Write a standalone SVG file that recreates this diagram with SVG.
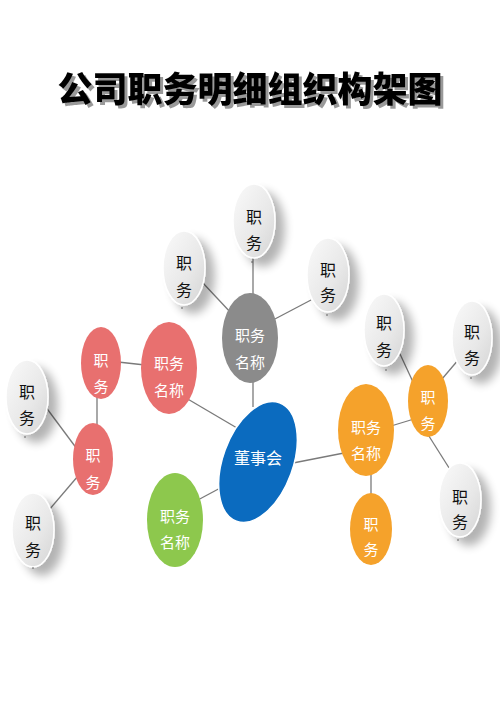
<svg xmlns="http://www.w3.org/2000/svg" width="500" height="707" viewBox="0 0 500 707">
<defs>
<linearGradient id="gg" x1="0" y1="0" x2="1" y2="1">
<stop offset="0" stop-color="#fafafa"/>
<stop offset="0.6" stop-color="#e8e8e8"/>
<stop offset="1" stop-color="#d4d4d4"/>
</linearGradient>
<filter id="sh" x="-60%" y="-50%" width="240%" height="200%">
<feGaussianBlur in="SourceAlpha" stdDeviation="5"/>
<feOffset dx="9" dy="8"/>
<feComponentTransfer><feFuncA type="linear" slope="0.3"/></feComponentTransfer>
<feMerge><feMergeNode/><feMergeNode in="SourceGraphic"/></feMerge>
</filter>
<filter id="tsh" x="-5%" y="-20%" width="110%" height="140%">
<feOffset in="SourceAlpha" dx="2.5" dy="2.5"/>
<feComponentTransfer><feFuncA type="linear" slope="0.4"/></feComponentTransfer>
<feMerge><feMergeNode/><feMergeNode in="SourceGraphic"/></feMerge>
</filter>
</defs>
<style>
.g{fill:url(#gg);stroke:#ffffff;stroke-width:1.5;filter:url(#sh)}
.gt{font-family:"Noto Sans CJK SC","Noto Sans",sans-serif;font-size:16px;fill:#111;text-anchor:middle}
.ct{font-family:"Noto Sans CJK SC","Noto Sans",sans-serif;font-size:15px;fill:#ffffff;text-anchor:middle}
.dot{fill:#555}
.red{fill:#e8706f}
.org{fill:#f5a22b}
.grn{fill:#8dc84d}
.gry{fill:#8b8b8b}
#connectors line{stroke:#7a7a7a;stroke-width:1.3}
.title{font-family:"Noto Sans CJK SC","Noto Sans",sans-serif;font-size:35px;font-weight:900;text-anchor:middle;filter:url(#tsh)}
</style>
<rect width="500" height="707" fill="#ffffff"/>
<g id="title">
<text class="title" x="250" y="102" fill="#000000">公司职务明细组织构架图</text>
</g>
<g id="connectors">
<line x1="253" y1="254" x2="253" y2="297"/>
<line x1="202" y1="282" x2="232" y2="314"/>
<line x1="311" y1="300" x2="273" y2="320"/>
<line x1="253" y1="379" x2="253" y2="407"/>
<line x1="186" y1="398" x2="237" y2="428"/>
<line x1="196" y1="501" x2="224" y2="486"/>
<line x1="293" y1="463" x2="344" y2="453"/>
<line x1="118" y1="362" x2="145" y2="365"/>
<line x1="97" y1="395" x2="97" y2="427"/>
<line x1="45" y1="406" x2="77" y2="449"/>
<line x1="78" y1="476" x2="49" y2="510"/>
<line x1="391" y1="426" x2="414" y2="419"/>
<line x1="371" y1="472" x2="371" y2="498"/>
<line x1="400" y1="354" x2="413" y2="382"/>
<line x1="442" y1="379" x2="459" y2="359"/>
<line x1="427" y1="433" x2="451" y2="471"/>
</g>
<g id="n-g1"><ellipse class="g" cx="254" cy="221" rx="21" ry="37"/><text class="gt" x="254" y="223">职</text><text class="gt" x="254" y="249">务</text><circle class="dot" cx="252" cy="262" r="0.8"/></g>
<g id="n-g2"><ellipse class="g" cx="184" cy="268" rx="21" ry="37"/><text class="gt" x="184" y="269">职</text><text class="gt" x="184" y="296">务</text><circle class="dot" cx="182" cy="308" r="0.8"/></g>
<g id="n-g3"><ellipse class="g" cx="328" cy="275" rx="21" ry="37"/><text class="gt" x="328" y="276">职</text><text class="gt" x="328" y="301">务</text><circle class="dot" cx="327" cy="315" r="0.8"/></g>
<g id="n-g4"><ellipse class="g" cx="27" cy="397" rx="21" ry="37"/><text class="gt" x="27" y="398">职</text><text class="gt" x="27" y="424">务</text><circle class="dot" cx="25" cy="437" r="0.8"/></g>
<g id="n-g5"><ellipse class="g" cx="33" cy="530" rx="21" ry="37"/><text class="gt" x="33" y="529">职</text><text class="gt" x="33" y="556">务</text><circle class="dot" cx="33" cy="568" r="0.8"/></g>
<g id="n-g6"><ellipse class="g" cx="384" cy="330" rx="20" ry="36"/><text class="gt" x="384" y="329">职</text><text class="gt" x="384" y="356">务</text><circle class="dot" cx="386" cy="370" r="0.8"/></g>
<g id="n-g7"><ellipse class="g" cx="472" cy="338" rx="20" ry="37"/><text class="gt" x="472" y="338">职</text><text class="gt" x="472" y="364">务</text><circle class="dot" cx="471" cy="378" r="0.8"/></g>
<g id="n-g8"><ellipse class="g" cx="460" cy="500" rx="21" ry="37"/><text class="gt" x="460" y="503">职</text><text class="gt" x="460" y="528">务</text><circle class="dot" cx="458" cy="540" r="0.8"/></g>
<g id="n-grayname"><ellipse class="gry" cx="250" cy="338" rx="28" ry="45"/><text class="ct" x="250" y="341">职务</text><text class="ct" x="250" y="368">名称</text></g>
<g id="n-redname"><ellipse class="red" cx="169" cy="368" rx="28" ry="46"/><text class="ct" x="169" y="369">职务</text><text class="ct" x="169" y="396">名称</text></g>
<g id="n-red1"><ellipse class="red" cx="101" cy="363" rx="20" ry="36"/><text class="ct" x="101" y="366">职</text><text class="ct" x="101" y="392">务</text></g>
<g id="n-red2"><ellipse class="red" cx="93" cy="459" rx="20" ry="36"/><text class="ct" x="93" y="461">职</text><text class="ct" x="93" y="488">务</text></g>
<g id="n-green"><ellipse class="grn" cx="175" cy="520" rx="28" ry="47"/><text class="ct" x="175" y="522">职务</text><text class="ct" x="175" y="548">名称</text></g>
<g id="n-orgname"><ellipse class="org" cx="366" cy="430" rx="28" ry="46"/><text class="ct" x="366" y="433">职务</text><text class="ct" x="366" y="459">名称</text></g>
<g id="n-org1"><ellipse class="org" cx="428" cy="401" rx="20" ry="36"/><text class="ct" x="428" y="403">职</text><text class="ct" x="428" y="429">务</text></g>
<g id="n-org2"><ellipse class="org" cx="371" cy="529" rx="21" ry="36"/><text class="ct" x="371" y="530">职</text><text class="ct" x="371" y="555">务</text></g>
<g id="n-board"><ellipse cx="258" cy="462" rx="35" ry="63" transform="rotate(20 258 462)" fill="#0b6bbf" stroke="#ffffff" stroke-width="1.5"/><text x="258" y="464" font-family="Noto Sans CJK SC, Noto Sans, sans-serif" font-size="16" fill="#ffffff" text-anchor="middle">董事会</text></g>
</svg>
